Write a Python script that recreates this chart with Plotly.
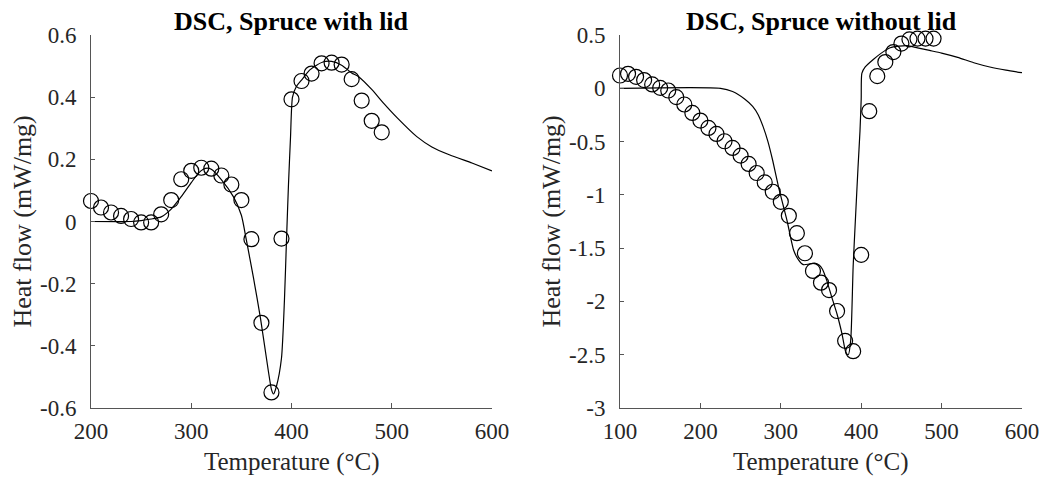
import plotly.graph_objects as go

# ---------------- Left panel: with lid ----------------
lid_exp_T = [200, 210, 220, 230, 240, 250, 260, 270, 280, 290, 300, 310, 320, 330, 340,
             350, 360, 370, 380, 390, 400, 410, 420, 430, 440, 450, 460, 470, 480, 490]
lid_exp_hf = [0.066, 0.045, 0.029, 0.018, 0.008, -0.003, -0.003, 0.023, 0.069, 0.136,
              0.163, 0.173, 0.170, 0.148, 0.119, 0.069, -0.057, -0.326, -0.550, -0.055,
              0.393, 0.452, 0.476, 0.509, 0.511, 0.505, 0.458, 0.389, 0.324, 0.287]

lid_model_T = [200, 240, 250, 260, 270, 280, 290, 300, 307, 312, 316, 320, 330, 342, 350,
               355, 362, 369, 375, 380, 382, 385, 390, 393, 395, 397, 399, 401, 405, 410,
               418, 425, 432, 440, 450, 460, 467, 480, 492, 505, 525, 540, 558, 580, 600]
lid_model_hf = [0, 0, 0.003, 0.008, 0.015, 0.04, 0.08, 0.125, 0.155, 0.168, 0.172, 0.168,
                0.135, 0.08, 0.02, -0.06, -0.18, -0.31, -0.44, -0.54, -0.555, -0.53, -0.44,
                -0.25, -0.06, 0.12, 0.27, 0.40, 0.435, 0.455, 0.487, 0.503, 0.514, 0.515,
                0.503, 0.478, 0.466, 0.425, 0.38, 0.335, 0.273, 0.24, 0.214, 0.188, 0.163]

# ---------------- Right panel: without lid ----------------
nolid_exp_T = [100, 110, 120, 130, 140, 150, 160, 170, 180, 190, 200, 210, 220, 230, 240,
               250, 260, 270, 280, 290, 300, 310, 320, 330, 340, 350, 360, 370, 380, 390,
               400, 410, 420, 430, 440, 450, 460, 470, 480, 490]
nolid_exp_hf = [0.120, 0.136, 0.108, 0.077, 0.036, 0.004, -0.021, -0.083, -0.152, -0.231,
                -0.303, -0.372, -0.428, -0.497, -0.560, -0.632, -0.710, -0.795, -0.883,
                -0.971, -1.065, -1.197, -1.36, -1.548, -1.714, -1.824, -1.893, -2.09, -2.37,
                -2.467, -1.563, -0.215, 0.114, 0.246, 0.34, 0.42, 0.459, 0.466, 0.466, 0.466]

nolid_model_T = [100, 225, 240, 255, 265, 272, 278, 284, 290, 297, 303, 308, 316, 322, 328,
                 335, 342, 348, 352, 357, 363, 370, 376, 381, 384, 387, 390, 393, 396, 398.5,
                 400, 400.8, 405, 415, 425, 436, 447, 457, 470, 485, 500, 520, 540, 560, 580, 600]
nolid_model_hf = [0, 0, -0.03, -0.1, -0.17, -0.25, -0.36, -0.5, -0.68, -0.92, -1.1, -1.25,
                  -1.52, -1.61, -1.655, -1.65, -1.64, -1.66, -1.7, -1.8, -1.95, -2.12, -2.3,
                  -2.48, -2.5, -2.36, -1.67, -1.2, -0.75, -0.4, -0.1, 0.14, 0.2, 0.27, 0.33,
                  0.38, 0.395, 0.4, 0.38, 0.355, 0.33, 0.29, 0.24, 0.2, 0.17, 0.146]

left_xticks = [200, 300, 400, 500, 600]
left_yticks = [0.6, 0.4, 0.2, 0, -0.2, -0.4, -0.6]
left_ytext = ["0.6", "0.4", "0.2", "0", "-0.2", "-0.4", "-0.6"]
right_xticks = [100, 200, 300, 400, 500, 600]
right_yticks = [0.5, 0, -0.5, -1, -1.5, -2, -2.5, -3]
right_ytext = ["0.5", "0", "-0.5", "-1", "-1.5", "-2", "-2.5", "-3"]

titles = ["DSC, Spruce with lid", "DSC, Spruce without lid"]
xlabel = "Temperature (°C)"
ylabel = "Heat flow (mW/mg)"

W, H = 1042, 479
T_MARGIN, B_MARGIN = 35, 71
PH = H - T_MARGIN - B_MARGIN
FONT = "Liberation Serif"
TXT = "#262626"
AX = "#555555"

L_DOM = [91, 492]
R_DOM = [620, 1022]


def py(pix):  # pixel row -> paper y
    return (H - B_MARGIN - pix) / PH


fig = go.Figure()

marker = dict(symbol="circle-open", size=15, color="black", line=dict(width=1.2, color="black"))
line = dict(color="black", width=1.2, shape="spline", smoothing=0.6)

fig.add_trace(go.Scatter(x=lid_model_T, y=lid_model_hf, mode="lines", line=line,
                         xaxis="x", yaxis="y", showlegend=False))
fig.add_trace(go.Scatter(x=lid_exp_T, y=lid_exp_hf, mode="markers", marker=marker,
                         cliponaxis=False, xaxis="x", yaxis="y", showlegend=False))
fig.add_trace(go.Scatter(x=nolid_model_T, y=nolid_model_hf, mode="lines", line=line,
                         xaxis="x2", yaxis="y2", showlegend=False))
fig.add_trace(go.Scatter(x=nolid_exp_T, y=nolid_exp_hf, mode="markers", marker=marker,
                         cliponaxis=False, xaxis="x2", yaxis="y2", showlegend=False))

common_x = dict(showline=True, linecolor=AX, linewidth=1, ticks="inside", ticklen=5,
                tickcolor=AX, showgrid=False, zeroline=False, mirror=False, automargin=False,
                tickfont=dict(family=FONT, size=23, color=TXT), ticklabelstandoff=2)
common_y = dict(showline=True, linecolor=AX, linewidth=1, ticks="inside", ticklen=4,
                tickcolor=AX, showgrid=False, zeroline=False, mirror=False, automargin=False,
                tickfont=dict(family=FONT, size=23, color=TXT), ticklabelstandoff=9)

annotations = []
for dom, title, ytx in [(L_DOM, titles[0], 22), (R_DOM, titles[1], 551)]:
    cx = (dom[0] + dom[1]) / 2 / W
    annotations.append(dict(text="<b>" + title + "</b>", x=cx, y=py(22), xref="paper",
                            yref="paper", showarrow=False, xanchor="center", yanchor="middle",
                            font=dict(family=FONT, size=26, color="black")))
    annotations.append(dict(text=xlabel, x=cx, y=py(478), xref="paper", yref="paper",
                            showarrow=False, xanchor="center", yanchor="bottom",
                            font=dict(family=FONT, size=25, color=TXT)))
    annotations.append(dict(text=ylabel, x=ytx / W, y=py(221.5), xref="paper", yref="paper",
                            showarrow=False, xanchor="center", yanchor="middle", textangle=-90,
                            font=dict(family=FONT, size=26, color=TXT)))

fig.update_layout(
    width=W, height=H,
    margin=dict(l=0, r=0, t=T_MARGIN, b=B_MARGIN),
    paper_bgcolor="white", plot_bgcolor="white",
    xaxis=dict(common_x, domain=[L_DOM[0] / W, L_DOM[1] / W], range=[200, 600],
               tickvals=left_xticks, anchor="y"),
    yaxis=dict(common_y, domain=[0, 1], range=[-0.6, 0.6], tickvals=left_yticks,
               ticktext=left_ytext, anchor="x"),
    xaxis2=dict(common_x, domain=[R_DOM[0] / W, R_DOM[1] / W], range=[100, 600],
                tickvals=right_xticks, anchor="y2"),
    yaxis2=dict(common_y, domain=[0, 1], range=[-3, 0.5], tickvals=right_yticks,
                ticktext=right_ytext, anchor="x2"),
    annotations=annotations,
)

fig.write_html("out.html")
